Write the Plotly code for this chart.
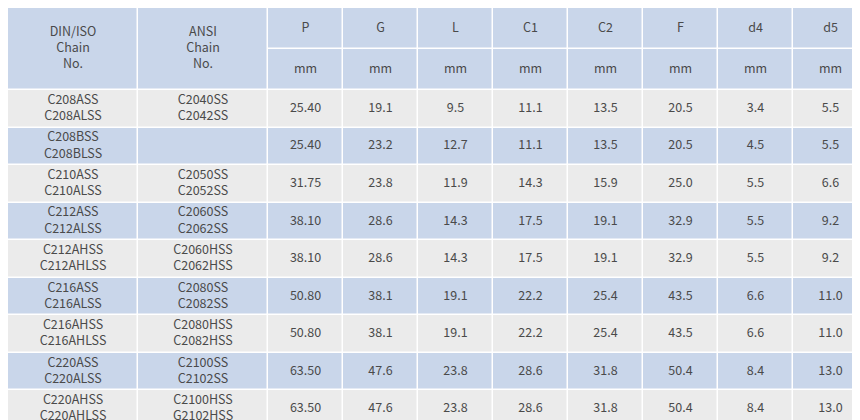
import plotly.graph_objects as go

din = ["C208ASS<br>C208ALSS", "C208BSS<br>C208BLSS", "C210ASS<br>C210ALSS", "C212ASS<br>C212ALSS",
       "C212AHSS<br>C212AHLSS", "C216ASS<br>C216ALSS", "C216AHSS<br>C216AHLSS", "C220ASS<br>C220ALSS",
       "C220AHSS<br>C220AHLSS"]
ansi = ["C2040SS<br>C2042SS", "", "C2050SS<br>C2052SS", "C2060SS<br>C2062SS", "C2060HSS<br>C2062HSS",
        "C2080SS<br>C2082SS", "C2080HSS<br>C2082HSS", "C2100SS<br>C2102SS", "C2100HSS<br>G2102HSS"]
P = ["25.40", "25.40", "31.75", "38.10", "38.10", "50.80", "50.80", "63.50", "63.50"]
G = ["19.1", "23.2", "23.8", "28.6", "28.6", "38.1", "38.1", "47.6", "47.6"]
L = ["9.5", "12.7", "11.9", "14.3", "14.3", "19.1", "19.1", "23.8", "23.8"]
C1 = ["11.1", "11.1", "14.3", "17.5", "17.5", "22.2", "22.2", "28.6", "28.6"]
C2 = ["13.5", "13.5", "15.9", "19.1", "19.1", "25.4", "25.4", "31.8", "31.8"]
F = ["20.5", "20.5", "25.0", "32.9", "32.9", "43.5", "43.5", "50.4", "50.4"]
d4 = ["3.4", "4.5", "5.5", "5.5", "5.5", "6.6", "6.6", "8.4", "8.4"]
d5 = ["5.5", "5.5", "6.6", "9.2", "9.2", "11.0", "11.0", "13.0", "13.0"]

name_headers = ["DIN/ISO<br>Chain<br>No.", "ANSI<br>Chain<br>No."]
dim_headers = ["P", "G", "L", "C1", "C2", "F", "d4", "d5"]
unit = "mm"

cols = [din, ansi, P, G, L, C1, C2, F, d4, d5]
col_edges = [0, 130, 260, 335, 410, 485, 560, 635, 710, 785, 860]
header_edges = [0, 41, 82]
row_h = (420 - 82) / len(din)
row_edges = [82 + i * row_h for i in range(len(din) + 1)]

gray, blue = "#ebebeb", "#c9d6ea"
cs = [[0, gray], [1, blue]]
font = dict(family="Noto Sans CJK JP", size=12.5, color="#4a4a4a")
hm = dict(colorscale=cs, zmin=0, zmax=1, showscale=False, xgap=1.5, ygap=1.5, hoverinfo="skip")

fig = go.Figure()
# body
fig.add_trace(go.Heatmap(x=col_edges, y=row_edges,
                         z=[[i % 2] * len(cols) for i in range(len(din))], **hm))
# header: merged name columns
fig.add_trace(go.Heatmap(x=col_edges[:3], y=[0, 82], z=[[1, 1]], **hm))
# header: dimension columns (two rows)
fig.add_trace(go.Heatmap(x=col_edges[2:], y=header_edges, z=[[1] * 8, [1] * 8], **hm))

centers = [(col_edges[j] + col_edges[j + 1]) / 2 for j in range(len(cols))]
row_c = [(row_edges[i] + row_edges[i + 1]) / 2 for i in range(len(din))]
for j, c in enumerate(cols):
    fig.add_trace(go.Scatter(x=[centers[j]] * len(c), y=row_c, text=c, mode="text",
                             textfont=font, hoverinfo="skip", showlegend=False))
fig.add_trace(go.Scatter(x=centers[:2], y=[41, 41], text=name_headers, mode="text",
                         textfont=font, hoverinfo="skip", showlegend=False))
fig.add_trace(go.Scatter(x=centers[2:], y=[20.5] * 8, text=dim_headers, mode="text",
                         textfont=font, hoverinfo="skip", showlegend=False))
fig.add_trace(go.Scatter(x=centers[2:], y=[61.5] * 8, text=[unit] * 8, mode="text",
                         textfont=font, hoverinfo="skip", showlegend=False))

fig.update_xaxes(range=[0, 860], visible=False, fixedrange=True)
fig.update_yaxes(range=[420, 0], visible=False, fixedrange=True)
fig.update_layout(width=860, height=420, margin=dict(l=0, r=0, t=0, b=0),
                  paper_bgcolor="white", plot_bgcolor="white", showlegend=False)
fig.write_html("out.html")
